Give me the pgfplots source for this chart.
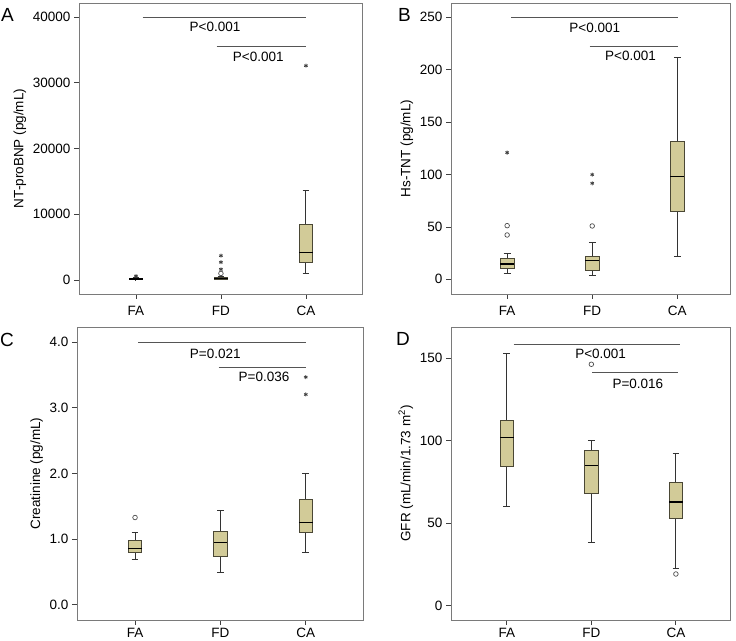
\documentclass[border=0pt]{standalone}
\usepackage{fontspec}
\setmainfont{Liberation Sans}
\usepackage{pgfplots}
\pgfplotsset{compat=1.18}

\definecolor{boxfill}{HTML}{D2CB98}
\definecolor{boxedge}{HTML}{4A4735}
\definecolor{framegray}{HTML}{7A7A7A}
\definecolor{siggray}{HTML}{555555}

\pgfplotsset{
  panel/.style={
    scale only axis,
    font=\fontsize{13.5}{16}\selectfont,
    axis line style={framegray, line width=0.9pt},
    tick align=outside, tick pos=left,
    major tick length=5pt,
    every tick/.style={black!75, line width=0.8pt},
    xtick={1,2,3}, xticklabels={FA,FD,CA},
    /pgf/number format/assume math mode=true,
    /pgf/number format/1000 sep={},
    scaled y ticks=false,
    clip=false,
  },
  sig/.style={siggray, line width=0.8pt},
  whisk/.style={black!80, line width=1pt},
  star/.style={only marks, mark=asterisk, mark size=2pt, black!75, mark options={line width=0.8pt}},
  ring/.style={only marks, mark=o, mark size=2.3pt, black!70, mark options={line width=0.7pt}},
}

% position, lower whisker, lower quartile, median, upper quartile, upper whisker
\newcommand{\bx}[6]{%
  \pgfmathsetmacro\xl{#1-0.08}\pgfmathsetmacro\xr{#1+0.08}%
  \pgfmathsetmacro\cl{#1-0.04}\pgfmathsetmacro\cr{#1+0.04}%
  \addplot[whisk] coordinates {(#1,#2) (#1,#3)};
  \addplot[whisk] coordinates {(#1,#5) (#1,#6)};
  \addplot[whisk] coordinates {(\cl,#2) (\cr,#2)};
  \addplot[whisk] coordinates {(\cl,#6) (\cr,#6)};
  \addplot[draw=boxedge, fill=boxfill, line width=0.8pt] coordinates {(\xl,#3) (\xr,#3) (\xr,#5) (\xl,#5)} --cycle;
  \addplot[black, line width=1.6pt] coordinates {(\xl,#4) (\xr,#4)};
}

\begin{document}
\begin{tikzpicture}
\useasboundingbox (0pt,0pt) rectangle (736pt,640pt);

% A
\begin{axis}[panel, at={(79pt,346pt)}, anchor=south west,
  width=283pt, height=291pt,
  xmin=0.33, xmax=3.66, ymin=-2130, ymax=42130,
  ytick={0,10000,20000,30000,40000},
  xticklabel style={yshift=-4pt},
  ylabel={NT-proBNP (pg/mL)}]
  \bx{1}{10}{50}{120}{200}{350}
  \bx{2}{40}{120}{250}{350}{500}
  \bx{3}{1000}{2740}{4210}{8480}{13600}
  \addplot[star] coordinates {(1,600) (2,1630) (2,2700) (2,3700) (3,32590)};
  \addplot[ring] coordinates {(2,1000)};
  \addplot[sig] coordinates {(1.08,40000) (3,40000)};
  \addplot[sig] coordinates {(1.95,35480) (3,35480)};
  \node at (axis cs:1.93,38480) {P<0.001};
  \node at (axis cs:2.44,33960) {P<0.001};
\end{axis}

% B
\begin{axis}[panel, at={(451pt,346pt)}, anchor=south west,
  width=279pt, height=291pt,
  xmin=0.34, xmax=3.62, ymin=-14, ymax=263.6,
  ytick={0,50,100,150,200,250},
  xticklabel style={yshift=-4pt},
  ylabel={Hs-TNT (pg/mL)}]
  \bx{1}{5.7}{10.2}{14.6}{20.4}{24.5}
  \bx{2}{3.8}{8.6}{18.1}{21.6}{35.3}
  \bx{3}{21.9}{64.9}{98}{131.4}{211.5}
  \addplot[star] coordinates {(1,120.9) (2,91.6) (2,99.9)};
  \addplot[ring] coordinates {(1,42.3) (1,51.2) (2,50.9)};
  \addplot[sig] coordinates {(1.05,250) (3.01,250)};
  \addplot[sig] coordinates {(1.97,222) (3.01,222)};
  \node at (axis cs:2.03,239.5) {P<0.001};
  \node at (axis cs:2.45,213) {P<0.001};
\end{axis}

% C
\begin{axis}[panel, at={(77pt,20pt)}, anchor=south west,
  width=286pt, height=293pt,
  xmin=0.32, xmax=3.67, ymin=-0.23, ymax=4.23,
  ytick={0,1,2,3,4},
  yticklabel style={/pgf/number format/.cd, fixed, fixed zerofill, precision=1},
  ylabel={Creatinine (pg/mL)}]
  \bx{1}{0.685}{0.797}{0.858}{0.975}{1.107}
  \bx{2}{0.49}{0.741}{0.949}{1.117}{1.431}
  \bx{3}{0.802}{1.10}{1.254}{1.60}{2.0}
  \addplot[star] coordinates {(3,3.467) (3,3.203)};
  \addplot[ring] coordinates {(1,1.33)};
  \addplot[sig] coordinates {(1.04,4.0) (3,4.0)};
  \addplot[sig] coordinates {(1.98,3.62) (3,3.62)};
  \node at (axis cs:1.94,3.82) {P=0.021};
  \node at (axis cs:2.51,3.47) {P=0.036};
\end{axis}

% D
\begin{axis}[panel, at={(451pt,20pt)}, anchor=south west,
  width=279pt, height=293pt,
  xmin=0.34, xmax=3.64, ymin=-8.7, ymax=169,
  ytick={0,50,100,150},
  ylabel={GFR (mL/min/1.73 m\textsuperscript{2})}]
  \bx{1}{60}{84.3}{102.1}{112.6}{153}
  \bx{2}{38.2}{68.1}{85.1}{94}{100.1}
  \bx{3}{22.4}{53.2}{62.7}{75}{92}
  \addplot[ring] coordinates {(2,146.4) (3,19.2)};
  \addplot[sig] coordinates {(1.08,158.7) (3.05,158.7)};
  \addplot[sig] coordinates {(2.01,141.7) (3.03,141.7)};
  \node at (axis cs:2.11,153) {P<0.001};
  \node at (axis cs:2.55,134.8) {P=0.016};
\end{axis}

\begin{scope}[every node/.style={inner sep=0pt, anchor=north west, font=\fontsize{19}{22}\selectfont}]
  \node at (1pt,632pt) {A};
  \node at (398pt,632pt) {B};
  \node at (0pt,307pt) {C};
  \node at (396pt,308pt) {D};
\end{scope}
\end{tikzpicture}
\end{document}
